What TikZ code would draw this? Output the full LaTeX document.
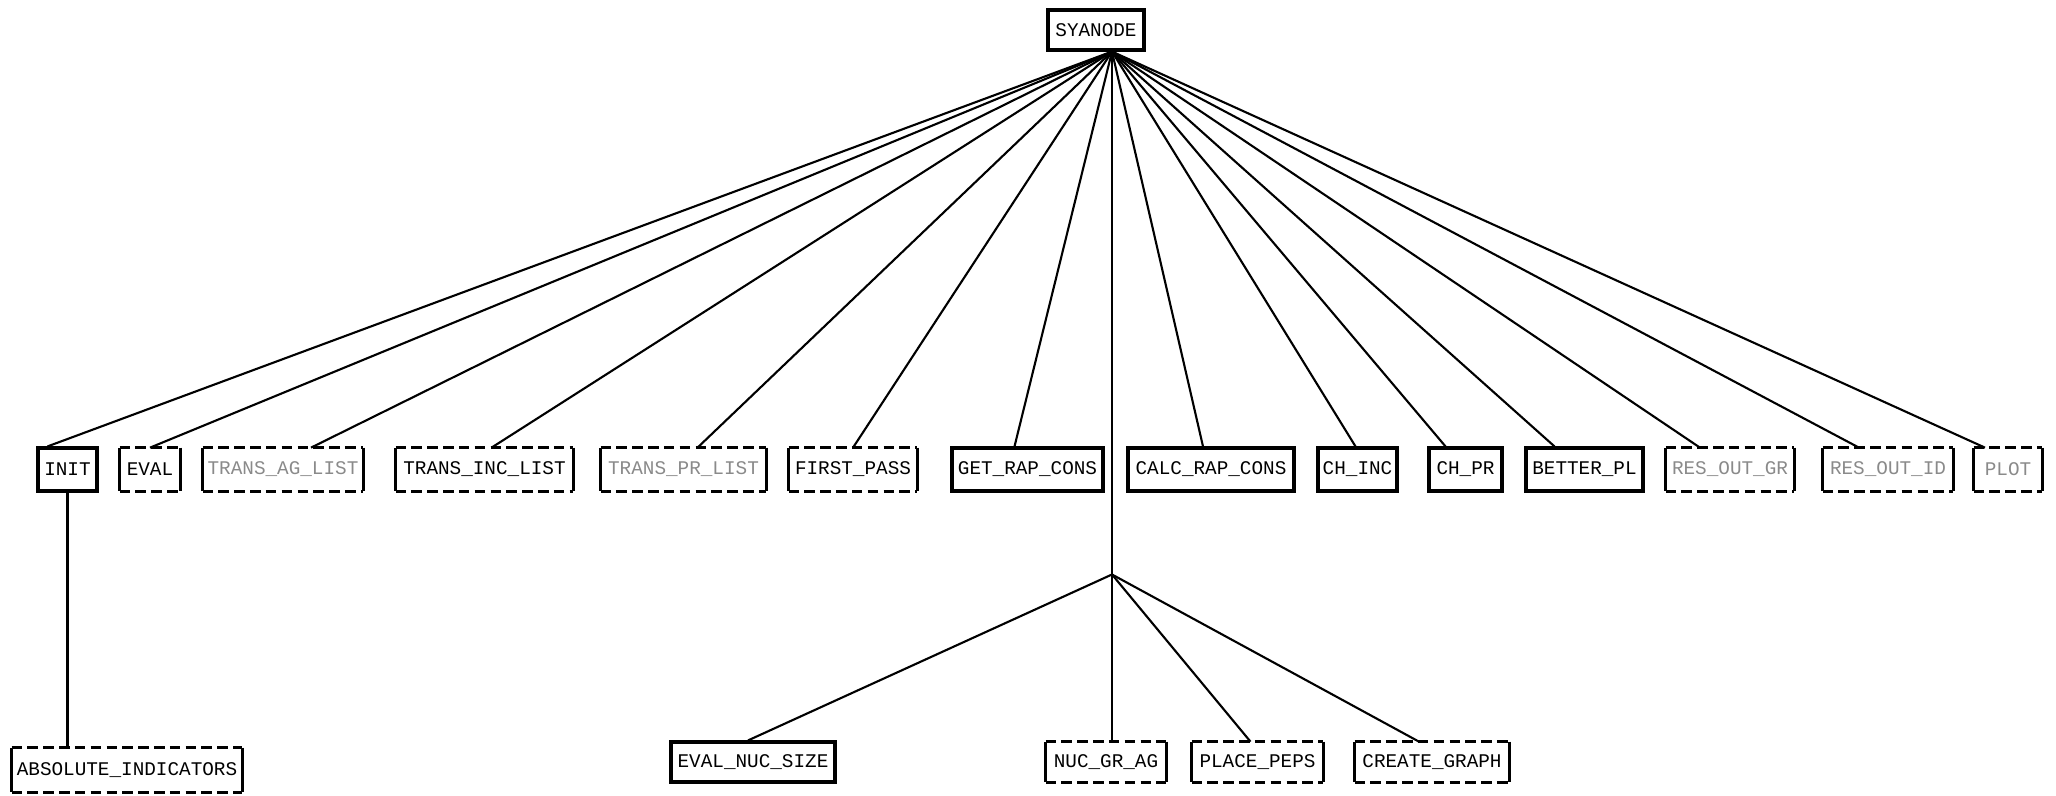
\documentclass[tikz,border=0pt]{standalone}
\usepackage{fontspec}
\setmonofont{Liberation Mono}
\usepackage{tikz}
\usetikzlibrary{positioning, calc}
\definecolor{ribbonfade}{HTML}{8a8a8a}

\begin{document}
\begin{tikzpicture}[
  x=0.02cm, y=-0.02cm,
  every node/.style={font=\ttfamily\fontsize{11}{13}\selectfont, inner sep=0pt},
  box/.style={draw, line width=1.8pt, minimum height=0.86cm},
  dbox/.style={minimum height=0.86cm},
  low/.style={minimum height=0.8cm},
  faded/.style={text=ribbonfade},
  link/.style={line width=1.2pt}
]
\useasboundingbox (0,0) rectangle (2056,795);

\node[box, minimum width=1.92cm, minimum height=0.8cm] (syanode) at (1096,30) {SYANODE};

\node[box,  minimum width=1.18cm] (init)      at (67.5,469.5)  {INIT};
\node[dbox, minimum width=1.20cm] (eval)      at (150,469.5)   {EVAL};
\node[dbox, minimum width=3.20cm, faded] (transag) at (283,469.5) {TRANS\_AG\_LIST};
\node[dbox, minimum width=3.54cm] (transinc)  at (484.5,469.5) {TRANS\_INC\_LIST};
\node[dbox, minimum width=3.30cm, faded] (transpr) at (683.5,469.5) {TRANS\_PR\_LIST};
\node[dbox, minimum width=2.56cm] (firstpass) at (853,469.5)   {FIRST\_PASS};
\node[box,  minimum width=3.02cm] (getrap)    at (1027.5,469.5) {GET\_RAP\_CONS};
\node[box,  minimum width=3.32cm] (calcrap)   at (1211,469.5)  {CALC\_RAP\_CONS};
\node[box,  minimum width=1.58cm] (chinc)     at (1357.5,469.5) {CH\_INC};
\node[box,  minimum width=1.46cm] (chpr)      at (1465.5,469.5) {CH\_PR};
\node[box,  minimum width=2.34cm] (betterpl)  at (1584.5,469.5) {BETTER\_PL};
\node[dbox, minimum width=2.56cm, faded] (resgr) at (1730,469.5) {RES\_OUT\_GR};
\node[dbox, minimum width=2.60cm, faded] (resid) at (1888,469.5) {RES\_OUT\_ID};
\node[dbox, minimum width=1.36cm, faded] (plot)  at (2008,469.5) {PLOT};

\node[dbox, minimum width=4.60cm, minimum height=0.88cm] (absind) at (127,770) {ABSOLUTE\_INDICATORS};
\node[box, low,  minimum width=3.28cm] (evalnuc)     at (753,762)    {EVAL\_NUC\_SIZE};
\node[dbox, low, minimum width=2.40cm] (nucgr)       at (1106,762)   {NUC\_GR\_AG};
\node[dbox, low, minimum width=2.62cm] (placepeps)   at (1257.5,762) {PLACE\_PEPS};
\node[dbox, low, minimum width=3.08cm] (creategraph) at (1432,762)   {CREATE\_GRAPH};

\foreach \n in {eval, transag, transinc, transpr, firstpass, resgr, resid, plot,
                absind, nucgr, placepeps, creategraph} {
  \draw[line width=1.8pt, dash pattern=on 6pt off 3pt]
    (\n.north west) -- (\n.north east) (\n.south west) -- (\n.south east);
  \draw[line width=1.8pt] (\n.north west) -- (\n.south west) (\n.north east) -- (\n.south east);
}

\coordinate (hub) at ([xshift=0.32cm]syanode.south);
\coordinate (split) at ([yshift=-10.46cm]hub);

\foreach \n/\d in {init/-0.4, eval/0, transag/0.56, transinc/0.14, transpr/0.28,
                   firstpass/0, getrap/-0.26, calcrap/-0.16, chinc/-0.04, chpr/-0.4,
                   betterpl/-0.6, resgr/-0.6, resid/-0.58, plot/-0.46}
  \draw[link] (hub) -- ([xshift=\d cm]\n.north);

\draw[link] (hub) -- (split);
\draw[link] (split) -- ([xshift=-0.1cm]evalnuc.north);
\draw[link] (split) -- (split |- nucgr.north);
\draw[link] (split) -- ([xshift=-0.14cm]placepeps.north);
\draw[link] (split) -- ([xshift=-0.26cm]creategraph.north);
\draw[link] (init.south) -- (init.south |- absind.north);
\end{tikzpicture}
\end{document}
